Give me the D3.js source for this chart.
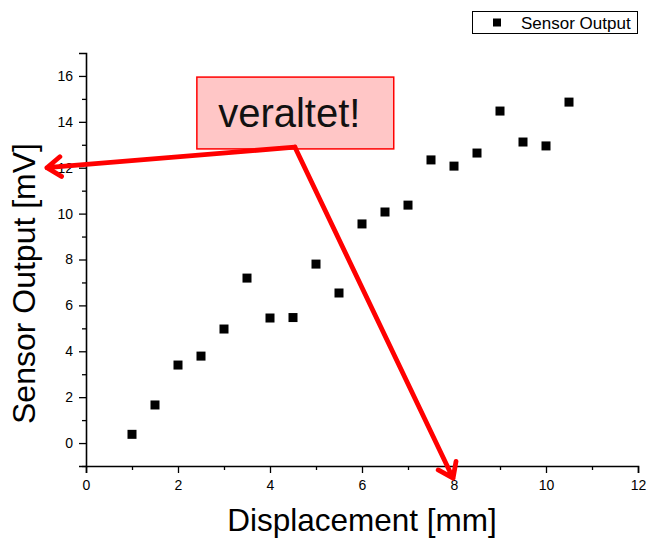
<!DOCTYPE html>
<html>
<head>
<meta charset="utf-8">
<script src="https://cdn.jsdelivr.net/npm/d3@7"></script>
<style>
  html, body { margin: 0; padding: 0; background: #fff; }
  svg { display: block; }
  text { font-family: "Liberation Sans", Arial, sans-serif; }
</style>
</head>
<body>
<svg id="chart" width="650" height="540"></svg>
<script>
// Measured sensor output vs. displacement
const displacement = [1, 1.5, 2, 2.5, 3, 3.5, 4, 4.5, 5, 5.5, 6, 6.5, 7, 7.5, 8, 8.5, 9, 9.5, 10, 10.5];
const sensorOutput = [0.38, 1.66, 3.40, 3.79, 4.97, 7.19, 5.45, 5.47, 7.80, 6.54, 9.55, 10.07, 10.37, 12.34, 12.07, 12.64, 14.47, 13.12, 12.95, 14.86];

const xMajorTicks = [0, 2, 4, 6, 8, 10, 12];
const xMinorTicks = [1, 3, 5, 7, 9, 11];
const yMajorTicks = [0, 2, 4, 6, 8, 10, 12, 14, 16];
const yMinorTicks = [-1, 1, 3, 5, 7, 9, 11, 13, 15];

const seriesName = "Sensor Output";
const xTitle = "Displacement [mm]";
const yTitle = "Sensor Output [mV]";
const noteText = "veraltet!";

// Annotation anchor points in data units: callout corner and the two arrow tips
const noteCorner = [4.54, 12.9];
const arrowTips = [[-0.85, 12.0], [7.98, -1.53]];
const noteBox = { x0: 2.41, x1: 6.69, y0: 15.95, y1: 12.82 };

const svg = d3.select("#chart");

const x = d3.scaleLinear().domain([0, 12]).range([86, 638]);
const y = d3.scaleLinear().domain([-1, 17]).range([466, 53]);

// X axis
const xAxis = svg.append("g").attr("transform", `translate(0,${y(-1)})`);
xAxis.call(d3.axisBottom(x).tickValues(xMajorTicks).tickSize(7).tickPadding(7).tickFormat(d3.format("d")));
xAxis.append("g").call(d3.axisBottom(x).tickValues(xMinorTicks).tickSize(4).tickFormat(""))
  .select(".domain").remove();

// Y axis
const yAxis = svg.append("g").attr("transform", `translate(${x(0)},0)`);
yAxis.call(d3.axisLeft(y).tickValues(yMajorTicks).tickSize(7).tickPadding(6).tickFormat(d3.format("d")));
yAxis.append("g").call(d3.axisLeft(y).tickValues(yMinorTicks).tickSize(4).tickFormat(""))
  .select(".domain").remove();

svg.selectAll(".domain").attr("stroke", "#000").attr("stroke-width", 1.6);
svg.selectAll(".tick line").attr("stroke", "#000").attr("stroke-width", 1.3);
svg.selectAll(".tick text").attr("font-size", 14).attr("fill", "#000")
  .attr("font-family", "'Liberation Sans', Arial, sans-serif");

// Axis titles
svg.append("text")
  .attr("x", x(6)).attr("y", 531)
  .attr("text-anchor", "middle")
  .attr("font-size", 31.5)
  .text(xTitle);

svg.append("text")
  .attr("transform", `translate(35,283.5) rotate(-90)`)
  .attr("text-anchor", "middle")
  .attr("font-size", 32)
  .text(yTitle);

// Data markers
const ms = 9;
svg.append("g").selectAll("rect")
  .data(displacement.map((d, i) => [d, sensorOutput[i]]))
  .join("rect")
  .attr("x", d => x(d[0]) - ms / 2)
  .attr("y", d => y(d[1]) - ms / 2)
  .attr("width", ms).attr("height", ms)
  .attr("fill", "#000");

// Legend
const legend = svg.append("g");
legend.append("rect")
  .attr("x", 472.5).attr("y", 11.5).attr("width", 165).attr("height", 22)
  .attr("fill", "#fff").attr("stroke", "#000").attr("stroke-width", 1);
legend.append("rect")
  .attr("x", 497 - 4).attr("y", 22.5 - 4).attr("width", 8).attr("height", 8)
  .attr("fill", "#000");
legend.append("text")
  .attr("x", 521).attr("y", 28.5)
  .attr("font-size", 17)
  .text(seriesName);

// Callout box
const note = svg.append("g");
note.append("rect")
  .attr("x", x(noteBox.x0)).attr("y", y(noteBox.y0))
  .attr("width", x(noteBox.x1) - x(noteBox.x0))
  .attr("height", y(noteBox.y1) - y(noteBox.y0))
  .attr("fill", "#ffc6c6").attr("stroke", "#ff0000").attr("stroke-width", 1.5);
note.append("text")
  .attr("x", (x(noteBox.x0) + x(noteBox.x1)) / 2 - 6)
  .attr("y", 127)
  .attr("text-anchor", "middle")
  .attr("font-family", "Lato, 'Open Sans', sans-serif")
  .attr("font-size", 40)
  .attr("fill", "#111")
  .text(noteText);

// Arrows from the callout corner
const cx = x(noteCorner[0]), cy = y(noteCorner[1]);
arrowTips.forEach(t => {
  const tx = x(t[0]), ty = y(t[1]);
  const ang = Math.atan2(ty - cy, tx - cx);
  const len = 17, spread = 0.62;
  const a1 = [tx - len * Math.cos(ang - spread), ty - len * Math.sin(ang - spread)];
  const a2 = [tx - len * Math.cos(ang + spread), ty - len * Math.sin(ang + spread)];
  note.append("path")
    .attr("d", `M${cx},${cy}L${tx},${ty}M${a1[0]},${a1[1]}L${tx},${ty}L${a2[0]},${a2[1]}`)
    .attr("fill", "none")
    .attr("stroke", "#ff0000")
    .attr("stroke-width", 4.8)
    .attr("stroke-linecap", "round")
    .attr("stroke-linejoin", "round");
});
</script>
</body>
</html>
